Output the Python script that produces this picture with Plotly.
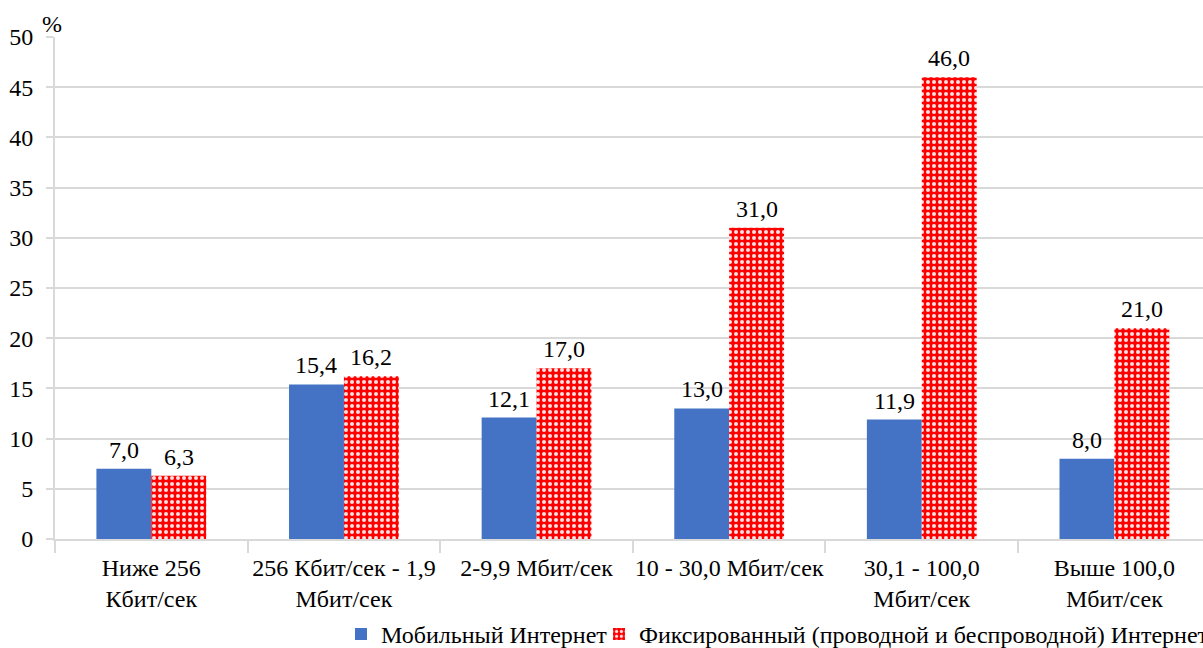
import plotly.graph_objects as go

categories = [
    "Ниже 256<br>Кбит/сек",
    "256 Кбит/сек - 1,9<br>Мбит/сек",
    "2-9,9 Мбит/сек",
    "10 - 30,0 Мбит/сек",
    "30,1 - 100,0<br>Мбит/сек",
    "Выше 100,0<br>Мбит/сек",
]
mobile = [7.0, 15.4, 12.1, 13.0, 11.9, 8.0]
fixed = [6.3, 16.2, 17.0, 31.0, 46.0, 21.0]
y_ticks = [0, 5, 10, 15, 20, 25, 30, 35, 40, 45, 50]

FONT = "Liberation Serif, Times New Roman, serif"
FS = 24
GRID = "#d9d9d9"


def fmt(v):
    return f"{v:.1f}".replace(".", ",")


W, H = 1203, 648
L, T, B = 55, 37, 109
BAR_HALF = 27.5  # px offset of each bar centre from its category centre

fig = go.Figure()
fig.add_trace(go.Bar(
    name="Мобильный Интернет",
    x=categories, y=mobile,
    marker=dict(color="#4472c4", line=dict(width=0)),
    legend="legend", showlegend=True,
))
fig.add_trace(go.Bar(
    name="Фиксированный (проводной и беспроводной) Интернет",
    x=categories, y=fixed,
    marker=dict(
        color="#ff0000",
        line=dict(width=0),
        pattern=dict(shape=".", fgcolor="#ffe0e0", bgcolor="#ff0000",
                     size=6, solidity=0.35, fillmode="replace"),
    ),
    legend="legend2", showlegend=True,
))

# value labels above each bar
annotations = []
for series, shift in ((mobile, -BAR_HALF), (fixed, BAR_HALF)):
    for cat, v in zip(categories, series):
        annotations.append(dict(
            x=cat, y=v, xref="x", yref="y", text=fmt(v),
            xshift=shift, yshift=4, yanchor="bottom", xanchor="center",
            showarrow=False, font=dict(family=FONT, size=FS, color="black"),
        ))
annotations.append(dict(
    text="%", xref="paper", yref="paper", x=-0.013, y=1.0,
    xanchor="left", yanchor="bottom", showarrow=False, yshift=-2,
    font=dict(family=FONT, size=FS),
))

plot_w = W - L
legend_y = -0.145
fig.update_layout(
    width=W, height=H,
    margin=dict(l=L, r=0, t=T, b=B, autoexpand=False),
    paper_bgcolor="white", plot_bgcolor="white",
    font=dict(family=FONT, size=FS, color="black"),
    barmode="group", bargap=0.43, bargroupgap=0,
    showlegend=True,
    legend=dict(orientation="h", x=(341 - L) / plot_w, y=legend_y,
                xanchor="left", yanchor="top", itemwidth=30,
                font=dict(family=FONT, size=FS), bgcolor="rgba(0,0,0,0)"),
    legend2=dict(orientation="h", x=(599 - L) / plot_w, y=legend_y,
                 xanchor="left", yanchor="top", itemwidth=30,
                 font=dict(family=FONT, size=FS), bgcolor="rgba(0,0,0,0)"),
    xaxis=dict(
        type="category",
        range=[-0.5, 5.46],
        tickson="boundaries",
        ticks="outside", ticklen=12, tickcolor=GRID, tickwidth=2,
        showline=True, linecolor=GRID, linewidth=2,
        showgrid=False,
        tickangle=0,
        ticklabelstandoff=6,
        tickfont=dict(family=FONT, size=FS),
    ),
    yaxis=dict(
        range=[0, 50], tickvals=y_ticks,
        ticks="outside", ticklen=7, tickcolor=GRID, tickwidth=2,
        showgrid=True, gridcolor=GRID, gridwidth=2,
        showline=True, linecolor=GRID, linewidth=2,
        zeroline=False,
        ticklabelstandoff=8,
        tickfont=dict(family=FONT, size=FS),
    ),
    annotations=annotations,
)

fig.write_html("out.html")
